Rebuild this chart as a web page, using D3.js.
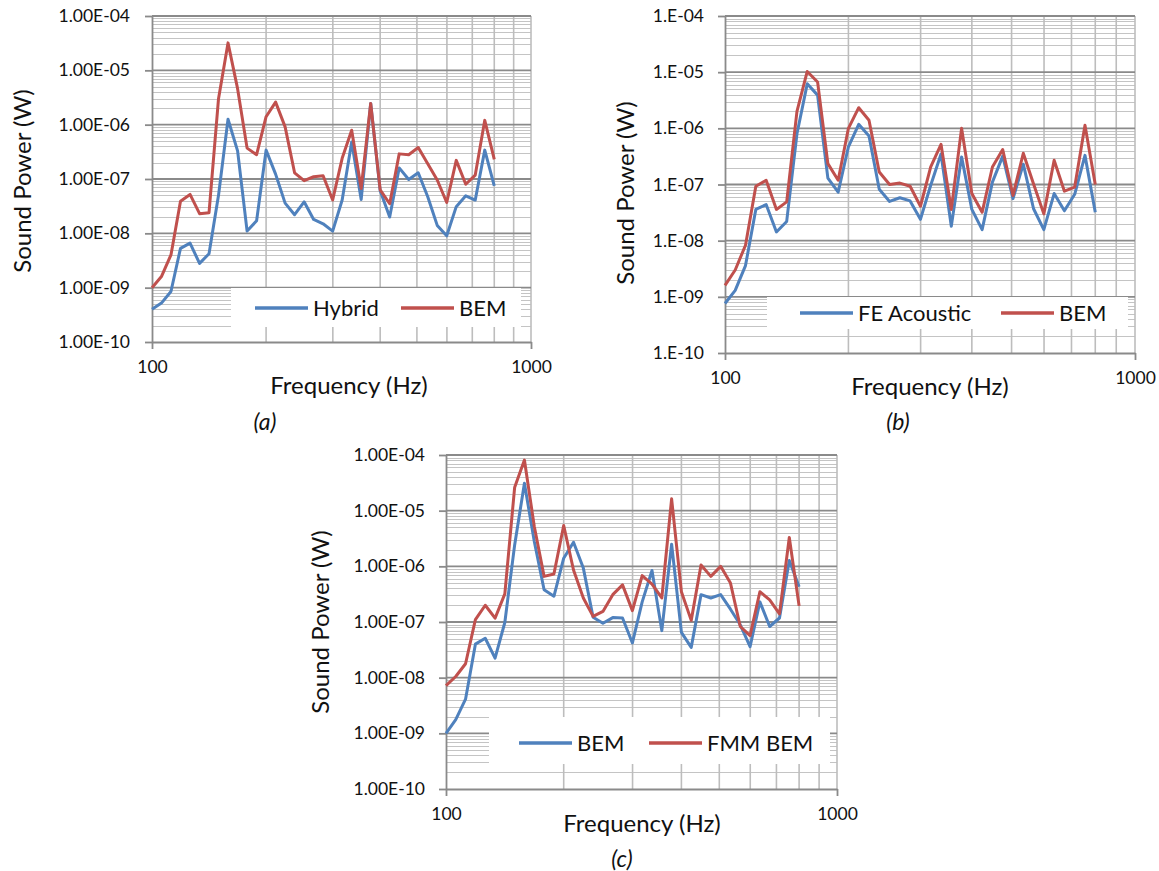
<!DOCTYPE html>
<html>
<head>
<meta charset="utf-8">
<script src="https://cdn.jsdelivr.net/npm/d3@7"></script>
<style>
  body { margin: 0; background: #fff; }
  svg { display: block; font-family: Lato, "Open Sans", sans-serif; }
</style>
</head>
<body>
<svg width="1159" height="871"></svg>
<script>
// 1/12-octave band frequencies (Hz)
var freqs = [100, 105.9, 112.2, 118.9, 126, 133.5, 141.4, 149.8, 158.7, 168.2, 178.2, 188.8,
  200, 211.9, 224.5, 237.8, 252, 267, 282.8, 299.7, 317.5, 336.4, 356.4, 377.6,
  400, 423.8, 449, 475.7, 504, 534, 565.7, 599.3, 635, 672.7, 712.7, 755.1, 800];

// (a) Hybrid vs BEM
var aHybrid = [4.0e-10, 5.2e-10, 8.5e-10, 5.3e-9, 6.6e-9, 2.8e-9, 4.2e-9, 5.0e-8, 1.26e-6, 3.3e-7,
  1.1e-8, 1.7e-8, 3.4e-7, 1.23e-7, 3.6e-8, 2.2e-8, 3.8e-8, 1.8e-8, 1.5e-8, 1.1e-8,
  4.1e-8, 4.8e-7, 4.2e-8, 2.45e-6, 6.1e-8, 2.0e-8, 1.6e-7, 9.8e-8, 1.3e-7, 4.7e-8,
  1.4e-8, 9.0e-9, 3.1e-8, 4.9e-8, 4.1e-8, 3.4e-7, 7.5e-8];
var aBem = [1.0e-9, 1.6e-9, 4.0e-9, 3.9e-8, 5.2e-8, 2.3e-8, 2.4e-8, 3.0e-6, 3.2e-5, 4.6e-6,
  3.7e-7, 2.8e-7, 1.4e-6, 2.6e-6, 9.1e-7, 1.3e-7, 9.3e-8, 1.1e-7, 1.15e-7, 4.1e-8,
  2.4e-7, 7.9e-7, 6.7e-8, 2.45e-6, 6.3e-8, 3.5e-8, 2.9e-7, 2.8e-7, 3.8e-7, 1.9e-7,
  9.6e-8, 3.7e-8, 2.2e-7, 8.0e-8, 1.18e-7, 1.2e-6, 2.3e-7];

// (b) FE Acoustic vs BEM
var bFe = [7.6e-10, 1.3e-9, 3.6e-9, 3.6e-8, 4.4e-8, 1.43e-8, 2.2e-8, 8.0e-7, 6.2e-6, 3.9e-6,
  1.3e-7, 7.3e-8, 4.7e-7, 1.18e-6, 7.3e-7, 8.2e-8, 5.0e-8, 5.8e-8, 5.1e-8, 2.4e-8,
  9.7e-8, 3.5e-7, 1.8e-8, 3.1e-7, 3.6e-8, 1.57e-8, 1.1e-7, 3.2e-7, 5.6e-8, 2.3e-7,
  3.7e-8, 1.57e-8, 6.9e-8, 3.4e-8, 6.7e-8, 3.3e-7, 3.2e-8];
var bBem = [1.6e-9, 3.0e-9, 8.3e-9, 9.3e-8, 1.19e-7, 3.6e-8, 4.9e-8, 2.0e-6, 1.03e-5, 6.7e-6,
  2.35e-7, 1.19e-7, 1.0e-6, 2.33e-6, 1.39e-6, 1.67e-7, 1.0e-7, 1.06e-7, 9.3e-8, 4.1e-8,
  2.05e-7, 5.2e-7, 3.6e-8, 1.0e-6, 6.9e-8, 3.2e-8, 2.05e-7, 4.2e-7, 6.4e-8, 3.6e-7,
  1.02e-7, 3.0e-8, 2.7e-7, 7.6e-8, 9.0e-8, 1.13e-6, 1.0e-7];

// (c) BEM vs FMM BEM
var cBem = [1.0e-9, 1.76e-9, 4.1e-9, 4.0e-8, 5.1e-8, 2.25e-8, 9.8e-8, 2.4e-6, 3.1e-5, 2.8e-6,
  3.8e-7, 2.9e-7, 1.4e-6, 2.7e-6, 9.3e-7, 1.22e-7, 9.5e-8, 1.2e-7, 1.18e-7, 4.2e-8,
  2.3e-7, 8.4e-7, 7.0e-8, 2.5e-6, 6.5e-8, 3.5e-8, 3.1e-7, 2.7e-7, 3.1e-7, 1.7e-7,
  8.9e-8, 3.6e-8, 2.3e-7, 8.3e-8, 1.18e-7, 1.27e-6, 4.3e-7];
var cFmm = [7.2e-9, 1.05e-8, 1.78e-8, 1.1e-7, 2.0e-7, 1.17e-7, 3.2e-7, 2.6e-5, 8.1e-5, 5.2e-6,
  6.6e-7, 7.3e-7, 5.4e-6, 8.6e-7, 2.7e-7, 1.26e-7, 1.55e-7, 3.1e-7, 4.65e-7, 1.6e-7,
  6.8e-7, 4.8e-7, 2.7e-7, 1.63e-5, 3.5e-7, 1.07e-7, 1.06e-6, 6.6e-7, 1.0e-6, 5.0e-7,
  8.3e-8, 5.7e-8, 3.5e-7, 2.5e-7, 1.4e-7, 3.3e-6, 1.95e-7];

var majorTicks = [1e-10, 1e-9, 1e-8, 1e-7, 1e-6, 1e-5, 1e-4];
var xTickLabels = [100, 1000];
var colors = ["#4F81BD", "#C0504D"];

var svg = d3.select("svg");

function expLabel(decimals) {
  return function (d) {
    var e = Math.round(Math.log10(d));
    var m = decimals ? "1." + "0".repeat(decimals) : "1.";
    return m + "E" + (e < 0 ? "-" : "+") + String(Math.abs(e)).padStart(2, "0");
  };
}

function drawPanel(p) {
  var x = d3.scaleLog().domain([100, 1000]).range([p.l, p.r]);
  var y = d3.scaleLog().domain([1e-10, 1e-4]).range([p.b, p.t]);
  var g = svg.append("g");

  var yAll = y.ticks();
  var minorY = yAll.filter(function (v) {
    var m = Math.round(v / Math.pow(10, Math.floor(Math.log10(v) + 1e-9)));
    return m !== 1;
  });

  // minor horizontal grid
  g.append("g").selectAll("line").data(minorY).enter().append("line")
    .attr("x1", p.l).attr("x2", p.r)
    .attr("y1", function (d) { return Math.round(y(d)) + 0.5; })
    .attr("y2", function (d) { return Math.round(y(d)) + 0.5; })
    .attr("stroke", "#c4c4c4").attr("stroke-width", 1);

  // vertical grid
  g.append("g").selectAll("line").data(x.ticks().filter(function (d) { return d > 100; }))
    .enter().append("line")
    .attr("x1", function (d) { return x(d); }).attr("x2", function (d) { return x(d); })
    .attr("y1", p.t).attr("y2", p.b)
    .attr("stroke", "#bdbdbd").attr("stroke-width", 1.6);

  // major horizontal grid
  g.append("g").selectAll("line").data(majorTicks.slice(1)).enter().append("line")
    .attr("x1", p.l).attr("x2", p.r)
    .attr("y1", function (d) { return y(d); }).attr("y2", function (d) { return y(d); })
    .attr("stroke", "#8a8a8a").attr("stroke-width", 1.8);

  // axes
  var yAxis = g.append("g").attr("transform", "translate(" + p.l + ",0)")
    .call(d3.axisLeft(y).tickValues(majorTicks).tickSize(7).tickSizeOuter(0)
      .tickPadding(p.yPad).tickFormat(expLabel(p.decimals)));
  var xAxis = g.append("g").attr("transform", "translate(0," + p.b + ")")
    .call(d3.axisBottom(x).tickValues(xTickLabels).tickSize(7).tickSizeOuter(0)
      .tickPadding(12).tickFormat(d3.format("d")));
  [yAxis, xAxis].forEach(function (a) {
    a.select(".domain").attr("stroke", "#8a8a8a").attr("stroke-width", 1.8);
    a.selectAll(".tick line").attr("stroke", "#8a8a8a").attr("stroke-width", 1.8);
    a.selectAll("text").attr("font-family", "Lato, sans-serif")
      .attr("font-size", 17.5).attr("fill", "#111");
  });

  // series
  var line = d3.line()
    .x(function (d) { return x(d[0]); })
    .y(function (d) { return y(d[1]); });
  p.series.forEach(function (s, i) {
    g.append("path")
      .datum(freqs.map(function (f, k) { return [f, s[k]]; }))
      .attr("d", line)
      .attr("fill", "none")
      .attr("stroke", colors[i])
      .attr("stroke-width", 3)
      .attr("stroke-linejoin", "round");
  });

  // legend
  var L = p.legend;
  g.append("rect").attr("x", L.x).attr("y", L.y).attr("width", L.w).attr("height", L.h)
    .attr("fill", "#fff");
  p.names.forEach(function (n, i) {
    var item = L.items[i];
    g.append("line").attr("x1", item[0]).attr("x2", item[0] + 53)
      .attr("y1", L.cy).attr("y2", L.cy)
      .attr("stroke", colors[i]).attr("stroke-width", 3.5);
    g.append("text").attr("x", item[0] + 58).attr("y", L.cy)
      .attr("dy", "0.36em").attr("font-size", 22).attr("fill", "#111").text(n);
  });

  // titles
  g.append("text").attr("x", p.xTitle[0]).attr("y", p.xTitle[1])
    .attr("text-anchor", "middle").attr("dy", "0.36em")
    .attr("font-size", 24).attr("fill", "#111").text("Frequency (Hz)");
  g.append("text")
    .attr("transform", "translate(" + p.yTitle[0] + "," + p.yTitle[1] + ") rotate(-90)")
    .attr("text-anchor", "middle").attr("dy", "0.36em")
    .attr("font-size", 24).attr("fill", "#111").text("Sound Power (W)");
  g.append("text").attr("x", p.cap[0]).attr("y", p.cap[1])
    .attr("text-anchor", "middle").attr("dy", "0.36em")
    .attr("font-size", 23).attr("font-style", "italic").attr("fill", "#111").text(p.label);
}

drawPanel({
  label: "(a)", l: 152, r: 531, t: 16, b: 342, decimals: 2, yPad: 15,
  series: [aHybrid, aBem], names: ["Hybrid", "BEM"],
  legend: { x: 231, y: 288, w: 290, h: 39, cy: 308, items: [[255], [401]] },
  xTitle: [349, 385], yTitle: [22, 181], cap: [265, 422]
});
drawPanel({
  label: "(b)", l: 725, r: 1135, t: 16, b: 353, decimals: 0, yPad: 14,
  series: [bFe, bBem], names: ["FE Acoustic", "BEM"],
  legend: { x: 767, y: 297, w: 361, h: 32, cy: 313, items: [[800], [1001]] },
  xTitle: [930, 386], yTitle: [625, 193], cap: [898, 422]
});
drawPanel({
  label: "(c)", l: 446, r: 837, t: 455, b: 789, decimals: 2, yPad: 14,
  series: [cBem, cFmm], names: ["BEM", "FMM BEM"],
  legend: { x: 489, y: 717, w: 341, h: 47, cy: 743, items: [[519], [649]] },
  xTitle: [642, 823], yTitle: [320, 622], cap: [622, 859]
});
</script>
</body>
</html>
